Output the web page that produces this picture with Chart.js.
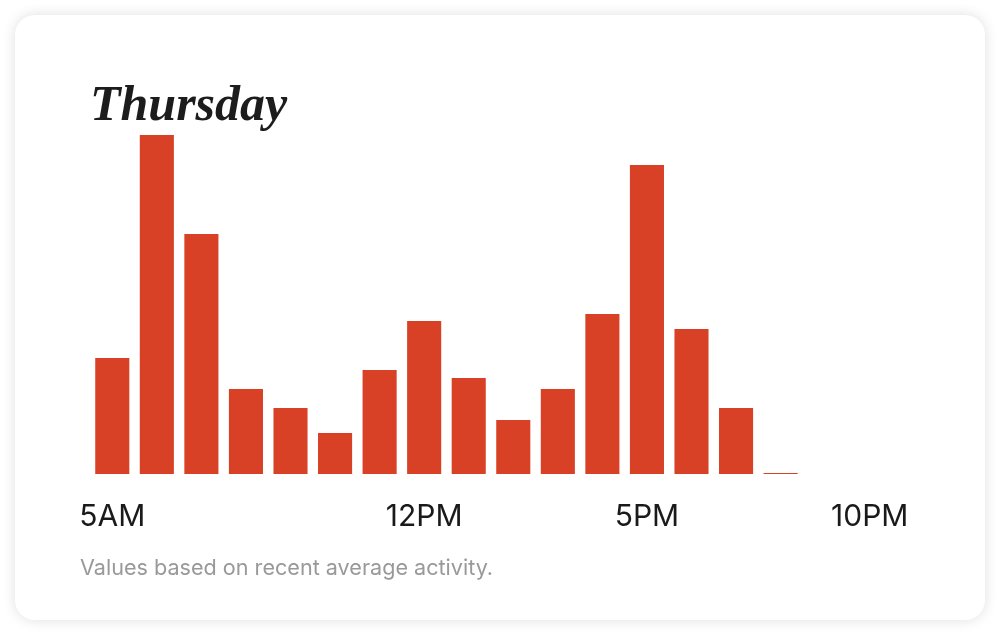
<!DOCTYPE html>
<html>
<head>
<meta charset="utf-8">
<script src="https://cdn.jsdelivr.net/npm/chart.js@4"></script>
<style>
    html, body { margin: 0; padding: 0; background: #ffffff; }
    body { width: 1000px; height: 635px; position: relative; overflow: hidden; }
    .card {
        position: absolute; left: 15px; top: 15px; width: 970px; height: 605px;
        background: #fff; border-radius: 20px;
        box-shadow: 0 0 14px rgba(0, 0, 0, 0.13);
    }
    .chart-wrap { position: absolute; left: 0; top: 0; width: 1000px; height: 635px; }
    .note {
        position: absolute; left: 80px; top: 554px;
        font-family: Inter, "Noto Sans", sans-serif; font-size: 21.6px; color: #999999;
    }
</style>
</head>
<body>
<div class="card"></div>
<div class="chart-wrap"><canvas id="chart" width="1000" height="635"></canvas></div>
<div class="note">Values based on recent average activity.</div>
<script>
// hourly buckets, 5AM .. 10PM
const hours = ['5AM', '6AM', '7AM', '8AM', '9AM', '10AM', '11AM', '12PM', '1PM', '2PM',
    '3PM', '4PM', '5PM', '6PM', '7PM', '8PM', '9PM', '10PM'];
const activity = [116, 339, 240, 85, 66, 41, 104, 153, 96, 54, 85, 160, 309, 145, 66, 1, 0, 0];
const shownLabels = ['5AM', '12PM', '5PM', '10PM'];
const dayName = 'Thursday';

const ctx = document.getElementById('chart').getContext('2d');

new Chart(ctx, {
    type: 'bar',
    data: {
        labels: hours,
        datasets: [{
            data: activity,
            backgroundColor: '#d84126',
            borderWidth: 0,
            barPercentage: 0.765,
            categoryPercentage: 1
        }]
    },
    options: {
        responsive: false,
        animation: false,
        layout: {
            padding: { left: 90, right: 108, top: 82, bottom: 101 }
        },
        plugins: {
            legend: { display: false },
            tooltip: { enabled: false },
            title: {
                display: true,
                text: dayName,
                align: 'start',
                color: '#1c1c1c',
                font: { family: '"Liberation Serif", serif', size: 50, weight: 'bold', style: 'italic', lineHeight: 1.0 },
                padding: { top: 0, bottom: 3 }
            }
        },
        scales: {
            x: {
                grid: { display: false, drawTicks: false },
                border: { display: false },
                ticks: {
                    autoSkip: false,
                    maxRotation: 0,
                    padding: 25,
                    color: '#1a1a1a',
                    font: { family: 'Inter, "Noto Sans", sans-serif', size: 30 },
                    callback: function (value) {
                        const name = this.getLabelForValue(value);
                        return shownLabels.includes(name) ? name : '';
                    }
                },
                afterFit: (scale) => { scale.height = 60; }
            },
            y: {
                display: false,
                min: 0,
                max: 339
            }
        }
    }
});
</script>
</body>
</html>
